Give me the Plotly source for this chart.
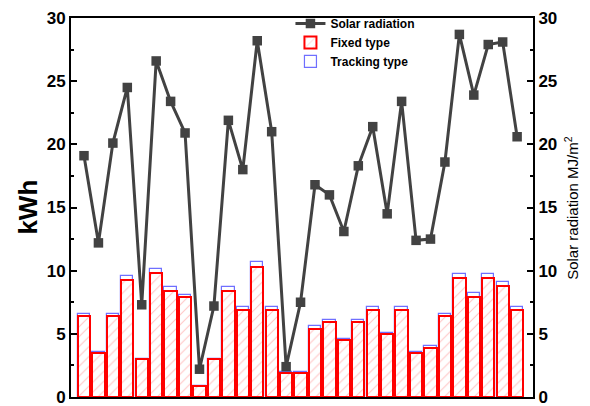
import plotly.graph_objects as go

# Daily values for one month
days = list(range(1, 32))
solar_radiation = [19.1, 12.2, 20.1, 24.5, 7.3, 26.6, 23.4, 20.9, 2.2, 7.2,
                   21.9, 18.0, 28.2, 21.0, 2.4, 7.5, 16.8, 16.0, 13.1, 18.3,
                   21.4, 14.5, 23.4, 12.4, 12.5, 18.6, 28.7, 23.9, 27.9, 28.1,
                   20.6]
fixed_type = [6.4, 3.5, 6.4, 9.3, 3.0, 9.8, 8.4, 7.9, 0.9, 3.0,
              8.4, 6.9, 10.3, 6.9, 1.9, 1.9, 5.4, 5.9, 4.5, 5.9,
              6.9, 5.0, 6.9, 3.5, 3.9, 6.4, 9.4, 7.9, 9.4, 8.8,
              6.9]
tracking_type = [6.6, 3.6, 6.6, 9.6, 3.0, 10.1, 8.7, 8.1, 0.9, 3.0,
                 8.7, 7.1, 10.7, 7.1, 1.95, 1.95, 5.6, 6.1, 4.6, 6.1,
                 7.1, 5.1, 7.1, 3.6, 4.0, 6.6, 9.7, 8.2, 9.7, 9.1,
                 7.1]

FONT = "Arial, Liberation Sans, sans-serif"

fig = go.Figure()

# Tracking bars sit behind, outlined in blue
fig.add_trace(go.Bar(
    x=days, y=tracking_type, name="Tracking type", width=0.85,
    legendrank=3,
    marker=dict(color="white", line=dict(color="#6f6fff", width=1.2)),
))

# Fixed bars in front, red outline with light red hatching
fig.add_trace(go.Bar(
    x=days, y=fixed_type, name="Fixed type", width=0.85,
    legendrank=2,
    marker=dict(
        color="white",
        line=dict(color="#ff0000", width=2),
        pattern=dict(shape="/", fgcolor="#ff8a8a", bgcolor="white",
                     size=7, solidity=0.15),
    ),
))

fig.add_trace(go.Scatter(
    x=days, y=solar_radiation, name="Solar radiation", yaxis="y2",
    legendrank=1,
    mode="lines+markers",
    line=dict(color="#424242", width=3),
    marker=dict(symbol="square", size=9.5, color="#424242"),
))

axis_common = dict(
    range=[0, 30], dtick=5, ticks="inside", ticklen=6, tickwidth=2,
    tickcolor="black", showline=True, linecolor="black", linewidth=2,
    showgrid=False, zeroline=False, ticklabeloverflow="allow",
    automargin=False,
    tickfont=dict(family=FONT, size=17, color="black", weight="bold"),
    minor=dict(ticks="inside", ticklen=3, tickwidth=2, dtick=2.5,
               tickcolor="black", showgrid=False),
)

fig.update_layout(
    width=590, height=406,
    margin=dict(l=71, r=57, t=13, b=9),
    paper_bgcolor="white", plot_bgcolor="white",
    barmode="overlay", bargap=0,
    showlegend=True,
    legend=dict(x=0.475, y=1.024, xanchor="left", yanchor="top",
                bgcolor="rgba(255,255,255,0)", borderwidth=0,
                font=dict(family=FONT, size=12, color="black", weight="bold"),
                tracegroupgap=0, itemwidth=30),
    xaxis=dict(range=[0.1, 32.1], showticklabels=False, ticks="",
               showline=True, linecolor="black", linewidth=2, mirror=True,
               showgrid=False, zeroline=False, automargin=False),
    yaxis=dict(**axis_common),
    yaxis2=dict(overlaying="y", side="right", **axis_common),
    annotations=[
        dict(text="kWh", textangle=-90, showarrow=False,
             xref="paper", yref="paper", x=-0.095, y=0.5,
             xanchor="center", yanchor="middle",
             font=dict(family=FONT, size=26, color="black", weight="bold")),
        dict(text="Solar radiation MJ/m<sup>2</sup>", textangle=-90,
             showarrow=False, xref="paper", yref="paper", x=1.083, y=0.5,
             xanchor="center", yanchor="middle",
             font=dict(family=FONT, size=15, color="black")),
    ],
)

fig.write_html("out.html")
